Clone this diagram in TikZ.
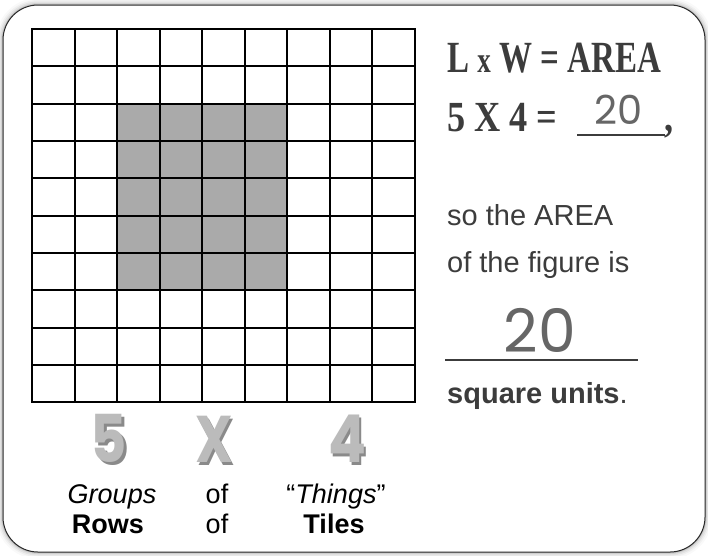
\documentclass[tikz,border=0pt]{standalone}
\usepackage{fontspec}
\setmainfont{Liberation Sans}
\newfontfamily\stencilfont{Liberation Serif}
\newfontfamily\roundfont{Poppins}
\definecolor{txtgray}{HTML}{3C3C3C}
\definecolor{numgray}{HTML}{666666}
\definecolor{tilegray}{HTML}{AAAAAA}
\definecolor{biggray}{HTML}{BBBBBB}
\definecolor{bigshade}{HTML}{8A8A8A}
\definecolor{framec}{HTML}{2A2A2A}
\newcommand{\shadowed}[1]{\rlap{\hspace{3pt}\raisebox{-3pt}{\textcolor{bigshade}{#1}}}#1}
\begin{document}
\begin{tikzpicture}[x=1pt,y=-1pt,
  gridline/.style={line width=2pt,black},
  sidetext/.style={anchor=base west,inner sep=0pt,text=txtgray,font=\fontsize{29}{31}\selectfont},
  stenc/.style={anchor=base west,inner sep=0pt,text=txtgray,font=\stencilfont\bfseries\fontsize{33}{35}\selectfont},
  handnum/.style={anchor=base,inner sep=0pt,text=numgray,font=\roundfont},
  bignum/.style={anchor=base,inner sep=0pt,text=biggray,font=\roundfont\bfseries\fontsize{66}{66}\selectfont},
  label/.style={anchor=base,inner sep=0pt,text=black,font=\fontsize{27}{29}\selectfont},
  blank/.style={line width=2pt,txtgray}]
\useasboundingbox (0,0) rectangle (708,555);
\fill[white] (0,0) rectangle (708,555);
% frame shadow
\foreach \w/\o in {14/0.025,10/0.035,7/0.05,4/0.07,2/0.1}
  \draw[line width=\w pt,black,opacity=\o,rounded corners=35pt] (3,5) rectangle (705,552);
\draw[framec,line width=1pt,fill=white,rounded corners=35pt] (3,5) rectangle (705,552);
% shaded tiles
\fill[tilegray] (117.1,103.7) rectangle (287.2,290.3);
% grid
\foreach \i in {0,...,9}
  \draw[gridline] ({32+\i*42.556},29) -- ({32+\i*42.556},402.3);
\foreach \j in {0,...,10}
  \draw[gridline] (31,{29+\j*37.33}) -- (416,{29+\j*37.33});
% right text
\node[stenc] (f1) at (447,72) {\scalebox{1}[1.35]{L {\fontsize{27}{27}\selectfont x} W = AREA}};
\node[stenc] (f2) at (447,131) {\scalebox{1.1}[1.3]{5 X 4 =}};
\coordinate (u1a) at (577,135);
\coordinate (u1b) at (665,135);
\draw[blank] (u1a) -- (u1b);
\node[stenc,anchor=base west] (comma) at (664,131) {\scalebox{1.1}[1.3]{,}};
\node[handnum,font=\roundfont\fontsize{40}{40}\selectfont] (n1) at (619,124) {20};
\node[sidetext] (t1) at (447,225) {so the AREA};
\node[sidetext] (t2) at (447,272) {of the figure is};
\node[handnum,font=\roundfont\fontsize{60}{60}\selectfont] (n2) at (540,352) {20};
\coordinate (u2a) at (445,360);
\coordinate (u2b) at (638,360);
\draw[blank] (u2a) -- (u2b);
\node[sidetext] (t3) at (447,403) {\textbf{square units}.};
% big 5 x 4
\node[bignum] (b5) at (109,462) {\scalebox{0.85}[1]{\shadowed{5}}};
\node[bignum] (bx) at (214,462) {\scalebox{0.8}[1]{\shadowed{X}}};
\node[bignum] (b4) at (347,462) {\scalebox{0.85}[1]{\shadowed{4}}};
% labels
\node[label] (g) at (112,503) {\textit{Groups}};
\node[label] (o1) at (217,503) {of};
\node[label] (th) at (336,503) {“\textit{Things}”};
\node[label] (r) at (108,533) {\textbf{Rows}};
\node[label] (o2) at (217,533) {of};
\node[label] (ti) at (334,533) {\textbf{Tiles}};
\end{tikzpicture}
\end{document}
